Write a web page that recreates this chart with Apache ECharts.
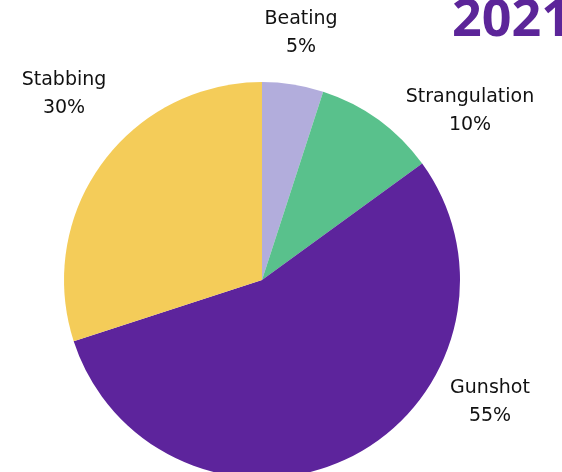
<!DOCTYPE html>
<html><head><meta charset="utf-8">
<script src="https://cdn.jsdelivr.net/npm/echarts@6/dist/echarts.min.js"></script>
<style>html,body{margin:0;padding:0;background:#fff}#c{width:562px;height:472px}</style>
</head><body><div id="c"></div>
<script>
const categories = ['Beating', 'Strangulation', 'Gunshot', 'Stabbing'];
const values = [5, 10, 55, 30];
const colors = ['#b2addc', '#59c18c', '#5d249c', '#f4cc59'];
const yearTitle = '2021';
const labelPos = [[301, 33], [470, 111], [490, 402], [64, 94]];

const chart = echarts.init(document.getElementById('c'));
chart.setOption({
  animation: false,
  title: {
    text: yearTitle, left: 447, top: -10,
    textStyle: { fontFamily: 'Open Sans', fontWeight: 'bold', fontSize: 52, color: '#5c2599' }
  },
  series: [{
    type: 'pie',
    center: [262, 280],
    radius: 198,
    startAngle: 90,
    clockwise: true,
    data: categories.map((c, i) => ({ name: c, value: values[i], itemStyle: { color: colors[i] } })),
    label: {
      show: true, position: 'outside', overflow: 'none', width: 200,
      formatter: '{b}\n{d}%',
      fontFamily: 'DejaVu Sans', fontSize: 19, color: '#111111', lineHeight: 28, align: 'center'
    },
    labelLine: { show: false },
    labelLayout: function (p) {
      const q = labelPos[p.dataIndex];
      return { x: q[0], y: q[1], align: 'center', verticalAlign: 'middle' };
    },
    emphasis: { disabled: true }
  }]
});
</script></body></html>
